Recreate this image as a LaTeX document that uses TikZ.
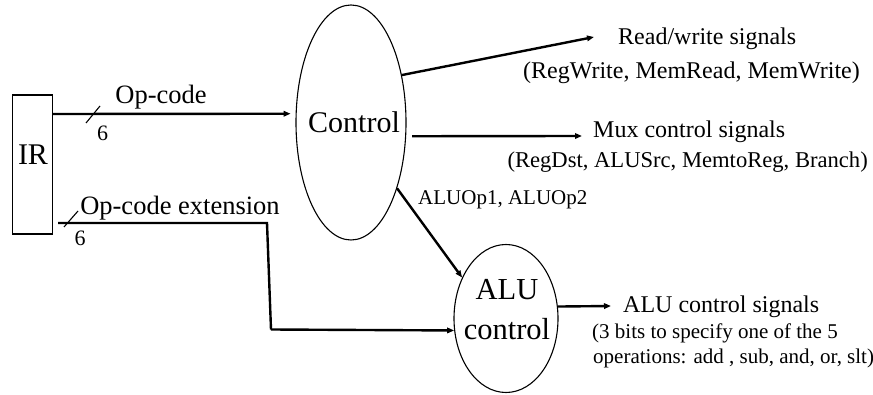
\documentclass[tikz,border=0pt]{standalone}
\usepackage{fontspec}
\setmainfont{Liberation Serif}
\usetikzlibrary{arrows.meta,shapes.geometric}
\begin{document}
\begin{tikzpicture}[x=1pt,y=-1pt,
  txt/.style={inner sep=0pt, text depth=0pt},
  big/.style={txt, font=\fontsize{30}{36}\selectfont, text height=19.8pt},
  mid/.style={txt, font=\fontsize{26.5}{30}\selectfont, text height=17.5pt},
  norm/.style={txt, font=\fontsize{24}{28}\selectfont, text height=15.8pt},
  sub/.style={txt, font=\fontsize{22.6}{27}\selectfont, text height=14.9pt},
  width/.style={txt, font=\fontsize{22}{26}\selectfont, text height=14.5pt},
  small/.style={txt, font=\fontsize{21}{25}\selectfont, text height=13.9pt},
  unit/.style={ellipse, draw, line width=1.1pt, inner sep=0pt},
  sig/.style={line width=2.4pt, -{Triangle[length=7pt,width=5.5pt]}},
  wire/.style={line width=2.4pt},
  tick/.style={line width=1.1pt}]
\useasboundingbox (0,0) rectangle (873,395);

% instruction register
\node[draw, line width=1.2pt, minimum width=40pt, minimum height=139pt, inner sep=0pt] (ir) at (32.5,164.5) {};
\node[big] (irtext) at (33,155) {IR};

% control units
\node[unit, minimum width=110pt, minimum height=235pt] (control) at (351,122.5) {};
\node[big] (ctext) at (354,123) {Control};
\node[unit, minimum width=104pt, minimum height=148pt] (alu) at (506,318.5) {};
\node[big, font=\fontsize{30.5}{36}\selectfont] (alutext1) at (507,290) {ALU};
\node[big, font=\fontsize{30.5}{36}\selectfont] (alutext2) at (507,330) {control};

% op-code input
\coordinate (opsrc) at (53,114);
\draw[sig, shorten >=5pt] (opsrc) -- (control.171);
\draw[tick] (86,123) -- (100,106);
\node[mid] (optext) at (161,95) {Op-code};
\node[width] (opw) at (102.5,133) {6};

% op-code extension input
\coordinate (extsrc) at (58,223);
\coordinate (extbend) at (267,223);
\coordinate (extdown) at (271,329.5);
\draw[wire] (extsrc) -- (extbend) -- (extdown);
\draw[sig] (extdown) -- (alu.193);
\draw[tick] (64,227) -- (78,211);
\node[mid] (exttext) at (180,206) {Op-code extension};
\node[width] (extw) at (80,238) {6};

% outputs of the control unit
\coordinate (rwend) at (594,37);
\draw[sig] (control.43) -- (rwend);
\node[norm, anchor=west] (rw1) at (618,37) {Read/write signals};
\node[norm, anchor=west] (rw2) at (523,71) {(RegWrite, MemRead, MemWrite)};

\coordinate (muxend) at (582,136);
\draw[sig, shorten <=6pt] (control.-14) -- (muxend);
\node[norm, anchor=west] (mux1) at (593,130) {Mux control signals};
\node[sub, anchor=east] (mux2) at (868,160) {(RegDst, ALUSrc, MemtoReg, Branch)};

\draw[sig] (control.-55) -- (alu.137);
\node[small, anchor=west] (aluop) at (418,198) {ALUOp1, ALUOp2};

% output of the ALU control
\coordinate (aluend) at (611,306);
\draw[sig] (alu.13) -- (aluend);
\node[norm, anchor=west] (alu1) at (623,305) {ALU control signals};
\node[small, anchor=west] (alu2) at (592,332) {(3 bits to specify one of the 5};
\node[small, anchor=west] (alu3) at (593,357) {operations: add , sub, and, or, slt)};
\end{tikzpicture}
\end{document}
